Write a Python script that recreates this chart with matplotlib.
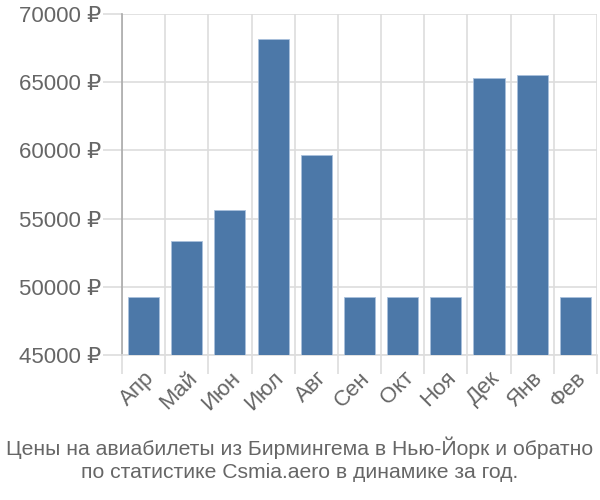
import matplotlib
matplotlib.use("Agg")
import matplotlib.pyplot as plt
from matplotlib.ticker import FixedLocator, FuncFormatter
import numpy as np

months = ["Апр", "Май", "Июн", "Июл", "Авг", "Сен", "Окт", "Ноя", "Дек", "Янв", "Фев"]
prices = [49270, 53360, 55630, 68150, 59660, 49270, 49270, 49270, 65330, 65530, 49270]
yticks = [45000, 50000, 55000, 60000, 65000, 70000]
title = "Цены на авиабилеты из Бирмингема в Нью-Йорк и обратно\nпо статистике Csmia.aero в динамике за год."

plt.rcParams['font.family'] = ['Liberation Sans', 'DejaVu Sans']

fig = plt.figure(figsize=(6, 5), dpi=100)
ax = fig.add_axes([0.2033, 0.29, 0.7917, 0.682])

x = np.arange(len(months))
ax.bar(x, prices, width=0.72, color="#4c78a8", edgecolor="#a9c0dc", linewidth=0.6, zorder=3)

ax.set_xlim(-0.5, len(months) - 0.5)
ax.set_ylim(45000, 70000)

ax.set_yticks(yticks)
ax.yaxis.set_major_formatter(FuncFormatter(lambda v, p: f"{int(v)} ₽"))
ax.set_xticks(x)
ax.set_xticklabels(months, rotation=45, ha="right", rotation_mode="anchor")
ax.xaxis.set_minor_locator(FixedLocator(np.arange(-0.5, len(months), 1.0)))

ax.grid(False)
ax.yaxis.grid(True, color="#dddddd", linewidth=1.2, zorder=0)
ax.xaxis.grid(True, which="minor", color="#dddddd", linewidth=1.2, zorder=0)

ax.tick_params(axis="y", length=14, color="#dddddd", width=1.2, labelsize=16, labelcolor="#666666", pad=1)
ax.tick_params(axis="x", which="major", length=0, labelsize=16, labelcolor="#666666", pad=9)
ax.tick_params(axis="x", which="minor", length=14, color="#dddddd", width=1.2)

for s in ["top", "right"]:
    ax.spines[s].set_visible(False)
ax.spines["left"].set_color("#aaaaaa")
ax.spines["left"].set_linewidth(1.2)
ax.spines["bottom"].set_color("#dddddd")
ax.spines["bottom"].set_linewidth(1.2)

fig.text(0.5, 0.081, title, ha="center", va="center", fontsize=15.2, color="#666666", linespacing=1.3)

fig.savefig("out.png", dpi=100)
